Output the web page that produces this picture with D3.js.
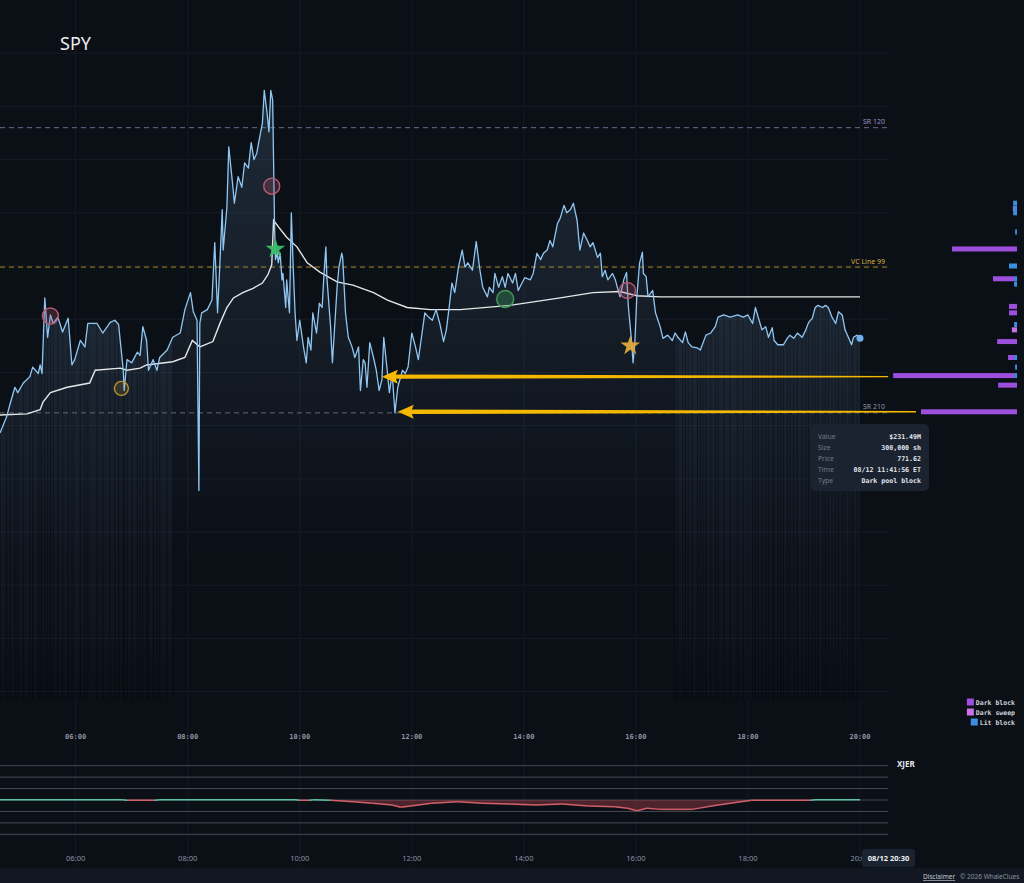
<!DOCTYPE html>
<meta charset="utf-8">
<script src="https://d3js.org/d3.v7.min.js"></script>
<style>
  body { margin: 0; background: #0b0f16; }
  svg { display: block; }
</style>
<div id="chart"></div>
<script>
// SPY 08/12, prices in $ and times ET
const priceTimes = [
  "04:39","04:46","04:50","04:55","04:58","05:04","05:11","05:14","05:20","05:22",
  "05:24","05:27","05:30","05:33","05:36","05:41","05:46","05:52","05:56","05:59",
  "06:05","06:10","06:13","06:23","06:29","06:37","06:42","06:46","06:51","06:52",
  "06:55","07:00","07:06","07:09","07:12","07:16","07:18","07:23","07:27","07:30",
  "07:38","07:44","07:52","07:57","08:03","08:06","08:10","08:12","08:13","08:15",
  "08:21","08:26","08:29","08:32","08:34","08:37","08:38","08:42","08:44","08:48",
  "08:50","08:54","08:58","09:01","09:05","09:08","09:11","09:14","09:16","09:20",
  "09:22","09:25","09:27","09:29","09:31","09:33","09:34","09:36","09:37","09:39",
  "09:41","09:42","09:45","09:46","09:49","09:51","09:53","09:55","09:57","10:00",
  "10:04","10:07","10:09","10:12","10:14","10:18","10:21","10:24","10:26","10:28",
  "10:29","10:33","10:35","10:37","10:40","10:42","10:45","10:46","10:49","10:52",
  "10:56","10:59","11:03","11:05","11:08","11:10","11:12","11:15","11:19","11:22",
  "11:25","11:28","11:30","11:34","11:36","11:39","11:42","11:45","11:50","11:53",
  "11:56","12:00","12:04","12:07","12:11","12:14","12:18","12:22","12:26","12:30",
  "12:34","12:37","12:40","12:43","12:46","12:50","12:54","12:57","13:00","13:05",
  "13:09","13:13","13:16","13:21","13:23","13:27","13:29","13:33","13:37","13:40",
  "13:43","13:48","13:51","13:54","13:58","14:01","14:07","14:10","14:14","14:18",
  "14:21","14:25","14:28","14:31","14:36","14:39","14:43","14:46","14:50","14:53",
  "14:57","15:00","15:04","15:08","15:11","15:14","15:19","15:22","15:24","15:27",
  "15:30","15:35","15:38","15:43","15:47","15:50","15:52","15:55","15:57","15:59",
  "16:01","16:04","16:07","16:08","16:11","16:13","16:18","16:21","16:26","16:29",
  "16:34","16:39","16:42","16:45","16:50","16:53","16:56","17:00","17:06","17:09",
  "17:12","17:15","17:20","17:25","17:28","17:34","17:41","17:49","17:55","18:00",
  "18:05","18:08","18:11","18:15","18:19","18:22","18:26","18:28","18:32","18:35",
  "18:38","18:42","18:45","18:49","18:53","18:58","19:02","19:05","19:09","19:12",
  "19:15","19:20","19:23","19:26","19:30","19:34","19:37","19:41","19:44","19:48",
  "19:51","19:53","19:57","20:00"
];
const priceValues = [
  771.43,771.58,771.71,771.86,771.81,771.90,771.96,772.05,771.99,772.07,
  771.99,772.70,772.33,772.54,772.46,772.52,772.38,772.51,772.07,772.12,
  772.30,772.24,772.46,772.46,772.37,772.47,772.49,772.45,772.02,771.83,
  772.12,772.09,772.19,772.16,772.43,772.30,772.02,772.12,772.02,772.14,
  772.21,772.33,772.37,772.59,772.75,772.57,772.49,770.89,772.46,772.56,
  772.59,772.68,773.22,772.56,772.93,773.53,773.15,773.55,774.12,773.78,
  773.59,773.84,773.74,773.97,773.92,774.16,774.00,774.06,774.16,774.34,
  774.65,774.44,774.26,774.65,774.56,773.40,773.06,773.12,773.03,773.12,
  772.87,772.93,772.61,772.87,772.56,773.50,772.99,772.56,772.30,772.49,
  772.24,772.09,772.33,772.21,772.56,772.37,772.65,772.61,772.93,773.18,
  772.90,772.43,772.09,772.37,772.80,772.99,773.12,773.08,772.56,772.33,
  772.24,772.14,772.24,771.83,772.12,772.09,771.86,772.28,772.14,772.02,
  771.83,771.93,772.33,771.99,771.81,771.99,771.62,771.86,772.02,771.99,
  772.05,772.37,772.24,772.12,772.37,772.56,772.52,772.49,772.59,772.46,
  772.29,772.40,772.61,772.84,772.75,772.99,773.15,772.99,773.03,772.96,
  773.23,772.96,772.80,772.71,772.80,772.75,772.93,772.80,772.90,772.80,
  772.93,772.84,772.93,772.77,772.84,772.89,772.87,772.93,773.12,773.06,
  773.12,773.15,773.24,773.18,773.40,773.45,773.57,773.50,773.53,773.59,
  773.43,773.15,773.31,773.24,773.18,773.22,773.08,773.12,772.90,772.96,
  772.87,772.93,772.87,772.71,772.87,772.94,772.61,772.33,772.09,772.30,
  772.71,773.03,773.13,772.93,772.90,772.71,772.77,772.56,772.43,772.32,
  772.35,772.30,772.37,772.33,772.28,772.38,772.28,772.24,772.23,772.21,
  772.28,772.35,772.37,772.43,772.52,772.54,772.52,772.54,772.52,772.54,
  772.46,772.61,772.52,772.40,772.43,772.33,772.42,772.30,772.26,772.26,
  772.26,772.32,772.35,772.32,772.37,772.33,772.40,772.47,772.51,772.61,
  772.63,772.61,772.63,772.61,772.52,772.46,772.57,772.54,772.40,772.32,
  772.26,772.33,772.35,772.32
];

// VWAP (white line)
const vwapTimes = ["04:39","05:08","05:22","05:25","05:33","05:51","06:15","06:21","06:48","06:55",
  "07:09","07:16","07:44","07:57","08:05","08:13","08:27","08:35","08:42","08:49",
  "08:59","09:10","09:20","09:26","09:30","09:32","09:37","09:46","09:57","10:08",
  "10:22","10:30","10:40","10:57","11:19","11:34","11:55","12:20","12:52","13:45",
  "14:39","15:14","15:43","16:01","16:26","20:00"];
const vwapValues = [771.60,771.61,771.65,771.72,771.81,771.86,771.90,772.02,772.04,772.02,
  772.04,772.07,772.10,772.14,772.30,772.24,772.29,772.47,772.61,772.70,
  772.75,772.79,772.84,772.92,773.01,773.43,773.37,773.27,773.18,773.03,
  772.94,772.90,772.85,772.82,772.75,772.68,772.61,772.59,772.59,772.63,
  772.70,772.75,772.76,772.72,772.71,772.71];

// flow markers
const markerTimes = ["05:33","06:49","09:30","09:34","13:40","15:51","15:54"];
const markerValues = [772.53,771.85,773.75,773.16,772.69,772.77,772.25];
const markerKinds = ["sell","neutral","sell","starBuy","buy","sell","starNeutral"];

// reference levels
const levelNames = ["SR 120","VC Line 99","SR 210"];
const levelValues = [774.30,772.99,771.62];
const levelColors = ["#6e6a8e","#a88a1c","#626876"];
const levelTextColors = ["#9a8fc4","#d6b23a","#8e94a2"];

// dark pool / lit volume by price (thousand shares)
const profilePrices = [773.59,773.54,773.50,773.32,773.16,773.00,772.88,772.83,772.62,772.56,
  772.45,772.40,772.29,772.14,772.05,771.97,771.88,771.63];
const darkBlock = [0,0,0,0,203,0,66,0,25,25,0,0,62,19,0,378,59,300];
const darkSweep = [0,3,0,0,0,0,0,0,0,0,0,16,0,0,0,0,0,0];
const litBlock  = [12,10,12,6,0,25,9,9,0,0,9,0,0,9,6,9,0,0];

// arrows from big prints to the tape
const arrowPrices = [771.96,771.63];
const arrowTimes = ["11:28","11:45"];
const arrowProfileIdx = [15,17];

// XJER panel
const xjerTimes = ["04:39","06:50","06:55","07:25","07:30","09:55","10:00","10:10","10:15","10:33",
  "10:57","11:18","11:39","11:48","11:59","12:21","12:49","13:16","13:44","14:13",
  "14:41","15:09","15:37","15:51","16:01","16:12","16:26","17:00","17:28","18:04",
  "19:07","19:12","20:00"];
const xjerValues = [0.02,0.02,-0.02,-0.02,0.02,0.02,-0.02,-0.02,0.02,-0.02,
  -0.15,-0.29,-0.44,-0.64,-0.53,-0.29,-0.15,-0.29,-0.35,-0.44,
  -0.35,-0.53,-0.59,-0.73,-0.94,-0.73,-0.82,-0.82,-0.44,-0.02,
  -0.02,0.02,0.02];

const tickLabels = ["06:00","08:00","10:00","12:00","14:00","16:00","18:00","20:00"];
const gridPrices = [769,769.5,770,770.5,771,771.5,772,772.5,773,773.5,774,774.5,775];
const xjerGrid = [-3,-2,-1,0,1,2,3];

const tooltipLabels = ["Value","Size","Price","Time","Type"];
const tooltipValues = ["$231.49M","300,000 sh","771.62","08/12 11:41:56 ET","Dark pool block"];

const legendNames = ["Dark block","Dark sweep","Lit block"];
const legendColors = ["#9b4fdc","#c872e6","#3b8fe0"];

const parseTime = d3.timeParse("%H:%M");
const mono = "'DejaVu Sans Mono', monospace";
const sans = "'Noto Sans', 'Open Sans', sans-serif";

const plotRight = 888;
const x = d3.scaleTime().domain([parseTime("04:39"), parseTime("20:30")]).range([0, plotRight]);
const y = d3.scaleLinear().domain([775.5 - 720 / 106.4, 775.5]).range([720, 0]);
const y2 = d3.scaleLinear().domain([-3, 3]).range([834.3, 765.7]);
const xp = d3.scaleLinear().domain([0, 400]).range([1017, 1017 - 128]);

const price = priceTimes.map((t, i) => ({t: parseTime(t), v: priceValues[i]}));
const vwap = vwapTimes.map((t, i) => ({t: parseTime(t), v: vwapValues[i]}));
const xjer = xjerTimes.map((t, i) => ({t: parseTime(t), v: xjerValues[i]}));

const svg = d3.select("#chart").append("svg").attr("width", 1024).attr("height", 883);
svg.append("rect").attr("width", 1024).attr("height", 883).attr("fill", "#0b0f16");
svg.append("rect").attr("y", 868).attr("width", 1024).attr("height", 15).attr("fill", "#121822");

const defs = svg.append("defs");
const g1 = defs.append("linearGradient").attr("id", "areaFill")
  .attr("gradientUnits", "userSpaceOnUse").attr("x1", 0).attr("x2", 0).attr("y1", 80).attr("y2", 560);
g1.append("stop").attr("offset", 0).attr("stop-color", "#7fb3e0").attr("stop-opacity", 0.17);
g1.append("stop").attr("offset", 1).attr("stop-color", "#7fb3e0").attr("stop-opacity", 0);
const g2 = defs.append("linearGradient").attr("id", "extFill")
  .attr("gradientUnits", "userSpaceOnUse").attr("x1", 0).attr("x2", 0).attr("y1", 300).attr("y2", 700);
g2.append("stop").attr("offset", 0).attr("stop-color", "#6f93bb").attr("stop-opacity", 0.10);
g2.append("stop").attr("offset", 0.8).attr("stop-color", "#6f93bb").attr("stop-opacity", 0.05);
g2.append("stop").attr("offset", 1).attr("stop-color", "#6f93bb").attr("stop-opacity", 0);

// grid
svg.append("g").selectAll("line").data(gridPrices).join("line")
  .attr("x1", 0).attr("x2", plotRight)
  .attr("y1", d => y(d)).attr("y2", d => y(d))
  .attr("stroke", "#161c26").attr("stroke-width", 1);
svg.append("g").selectAll("line").data(tickLabels).join("line")
  .attr("x1", d => x(parseTime(d))).attr("x2", d => x(parseTime(d)))
  .attr("y1", 0).attr("y2", 866)
  .attr("stroke", "#151b24").attr("stroke-width", 1);

// extended hours shading with stripes
const extPre = price.filter(d => d.t <= parseTime("07:50"));
const extPost = price.filter(d => d.t >= parseTime("16:40"));
const extArea = d3.area().x(d => x(d.t)).y0(700).y1(d => y(d.v));
[extPre, extPost].forEach(seg => {
  svg.append("path").datum(seg).attr("d", extArea).attr("fill", "url(#extFill)");
  svg.append("g").selectAll("line").data(seg).join("line")
    .attr("x1", d => x(d.t)).attr("x2", d => x(d.t))
    .attr("y1", d => y(d.v) + 2).attr("y2", 700)
    .attr("stroke", "#05080c").attr("stroke-opacity", 0.55).attr("stroke-width", 1.1);
});

// area under price
svg.append("path").datum(price)
  .attr("d", d3.area().x(d => x(d.t)).y0(720).y1(d => y(d.v)))
  .attr("fill", "url(#areaFill)");

// reference levels
levelValues.forEach((v, i) => {
  svg.append("line").attr("x1", 0).attr("x2", plotRight)
    .attr("y1", y(v)).attr("y2", y(v))
    .attr("stroke", levelColors[i]).attr("stroke-width", 1).attr("stroke-dasharray", "5,4");
  svg.append("text").attr("x", 885).attr("y", y(v) - 3.5)
    .attr("text-anchor", "end").attr("font-family", sans).attr("font-size", 7)
    .attr("fill", levelTextColors[i]).text(levelNames[i]);
});

// vwap
svg.append("path").datum(vwap)
  .attr("d", d3.line().x(d => x(d.t)).y(d => y(d.v)))
  .attr("fill", "none").attr("stroke", "#e6e6e6").attr("stroke-width", 1.4);

// price line
svg.append("path").datum(price)
  .attr("d", d3.line().x(d => x(d.t)).y(d => y(d.v)))
  .attr("fill", "none").attr("stroke", "#8fc6f2").attr("stroke-width", 1.3)
  .attr("stroke-linejoin", "round");
const last = price[price.length - 1];
svg.append("circle").attr("cx", x(last.t)).attr("cy", y(last.v)).attr("r", 3.5).attr("fill", "#6fb0ef");

// markers
const circleStyle = {
  sell: {r: 8, stroke: "#b65a74", fill: "rgba(182,90,116,0.25)"},
  neutral: {r: 7, stroke: "#b89430", fill: "rgba(184,148,48,0.18)"},
  buy: {r: 8.5, stroke: "#3f9a5c", fill: "rgba(63,154,92,0.35)"}
};
markerTimes.forEach((t, i) => {
  const cx = x(parseTime(t)), cy = y(markerValues[i]);
  const k = markerKinds[i];
  if (k.startsWith("star")) {
    svg.append("path")
      .attr("d", d3.symbol(d3.symbolStar, 120)())
      .attr("transform", `translate(${cx},${cy})`)
      .attr("fill", k === "starBuy" ? "#3cbf6a" : "#e2aa3c")
      .attr("opacity", 0.95);
  } else {
    const s = circleStyle[k];
    svg.append("circle").attr("cx", cx).attr("cy", cy).attr("r", s.r)
      .attr("fill", s.fill).attr("stroke", s.stroke).attr("stroke-width", 1.4);
  }
});

// volume profile on the right
const lvlH = 5;
profilePrices.forEach((p, i) => {
  const cy = y(p);
  let right = 0;
  [[litBlock[i], legendColors[2]], [darkSweep[i], legendColors[1]], [darkBlock[i], legendColors[0]]]
    .forEach(([v, c]) => {
      if (!v) return;
      svg.append("rect")
        .attr("x", xp(right + v)).attr("width", xp(right) - xp(right + v))
        .attr("y", cy - lvlH / 2).attr("height", lvlH).attr("fill", c);
      right += v;
    });
});

// arrows
arrowPrices.forEach((p, i) => {
  const j = arrowProfileIdx[i];
  const tot = darkBlock[j] + darkSweep[j] + litBlock[j];
  const endX = xp(tot) - 5;
  const tx = x(parseTime(arrowTimes[i])), ty = y(p);
  const d = `M${tx},${ty} L${tx + 16},${ty - 7} L${tx + 14},${ty - 2.2} L${endX},${ty - 0.7}` +
            ` L${endX},${ty + 0.7} L${tx + 14},${ty + 2.2} L${tx + 16},${ty + 7} Z`;
  svg.append("path").attr("d", d).attr("fill", "#f5b800");
});

// title
svg.append("text").attr("x", 60).attr("y", 50).attr("font-family", sans)
  .attr("font-size", 18).attr("fill", "#eceef2").text("SPY");

// main time axis
svg.append("g").selectAll("text").data(tickLabels).join("text")
  .attr("x", d => x(parseTime(d))).attr("y", 739)
  .attr("text-anchor", "middle").attr("font-family", mono).attr("font-size", 7)
  .attr("font-weight", "bold").attr("fill", "#8a93a2").text(d => d);

// tooltip
const tip = svg.append("g").attr("transform", "translate(811,424)");
tip.append("rect").attr("width", 118).attr("height", 67).attr("rx", 5).attr("fill", "#1b2230");
tooltipLabels.forEach((l, i) => {
  tip.append("text").attr("x", 7).attr("y", 14.5 + i * 11).attr("font-family", sans)
    .attr("font-size", 6.8).attr("fill", "#737c8d").text(l);
  tip.append("text").attr("x", 110).attr("y", 14.5 + i * 11).attr("text-anchor", "end")
    .attr("font-family", mono).attr("font-size", 6.6).attr("font-weight", "bold")
    .attr("fill", "#e4e7ec").text(tooltipValues[i]);
});

// legend
legendNames.forEach((n, i) => {
  const ty = 705 + i * 10;
  const t = svg.append("text").attr("x", 1015).attr("y", ty).attr("text-anchor", "end")
    .attr("font-family", mono).attr("font-size", 6.5).attr("font-weight", "bold")
    .attr("fill", "#cfd3da").text(n);
  const w = t.node().getComputedTextLength();
  svg.append("rect").attr("x", 1015 - w - 9).attr("y", ty - 6.5).attr("width", 7).attr("height", 7)
    .attr("fill", legendColors[i]);
});

// XJER panel
svg.append("g").selectAll("line").data(xjerGrid).join("line")
  .attr("x1", 0).attr("x2", plotRight)
  .attr("y1", d => y2(d)).attr("y2", d => y2(d))
  .attr("stroke", "#454b56").attr("stroke-width", 1);
svg.append("text").attr("x", 897).attr("y", 767).attr("font-family", sans)
  .attr("font-size", 8).attr("font-weight", "bold").attr("fill", "#e8eaee").text("XJER");
svg.append("path").datum(xjer)
  .attr("d", d3.area().x(d => x(d.t)).y0(y2(0)).y1(d => y2(Math.min(0, d.v))))
  .attr("fill", "rgba(190,70,82,0.38)");
for (let i = 1; i < xjer.length; i++) {
  const a = xjer[i - 1], b = xjer[i];
  svg.append("line")
    .attr("x1", x(a.t)).attr("y1", y2(a.v)).attr("x2", x(b.t)).attr("y2", y2(b.v))
    .attr("stroke", (a.v + b.v) / 2 < 0 ? "#d2606b" : "#5fc2a6").attr("stroke-width", 1.5);
}
svg.append("g").selectAll("text").data(tickLabels).join("text")
  .attr("x", d => x(parseTime(d))).attr("y", 861)
  .attr("text-anchor", "middle").attr("font-family", sans).attr("font-size", 7.5)
  .attr("fill", "#8a93a2").text(d => d);

// crosshair time box
svg.append("rect").attr("x", 862).attr("y", 849).attr("width", 53).attr("height", 18).attr("rx", 3)
  .attr("fill", "#1c2330");
svg.append("text").attr("x", 888.5).attr("y", 861).attr("text-anchor", "middle")
  .attr("font-family", sans).attr("font-size", 7.5).attr("font-weight", "bold")
  .attr("fill", "#f0f2f5").text("08/12 20:30");

// footer
svg.append("text").attr("x", 923).attr("y", 879).attr("font-family", sans).attr("font-size", 6.5)
  .attr("fill", "#c3c8d0").attr("text-decoration", "underline").text("Disclaimer");
svg.append("text").attr("x", 960).attr("y", 879).attr("font-family", sans).attr("font-size", 6.5)
  .attr("fill", "#8a92a0").text("© 2026 WhaleClues");
</script>
